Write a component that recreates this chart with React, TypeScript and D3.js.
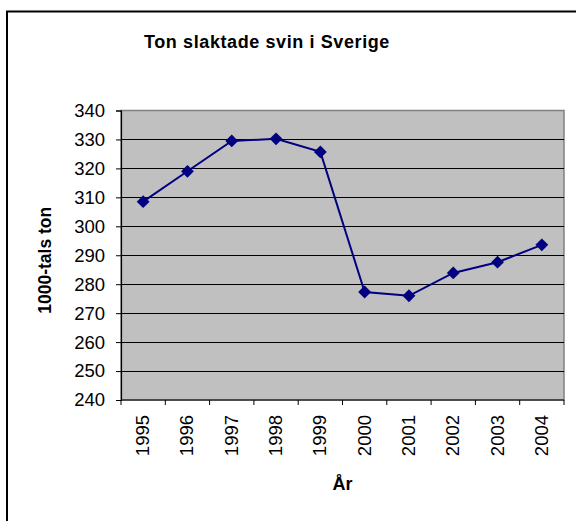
import React, {useEffect, useRef} from 'react';
import * as d3 from 'd3';

const years = ['1995', '1996', '1997', '1998', '1999', '2000', '2001', '2002', '2003', '2004'];
const tons = [308.5, 319.0, 329.5, 330.2, 325.7, 277.3, 276.0, 283.9, 287.6, 293.6];
const yTicks = [240, 250, 260, 270, 280, 290, 300, 310, 320, 330, 340];

const title = 'Ton slaktade svin i Sverige';
const xTitle = 'År';
const yTitle = '1000-tals ton';

const App = () => {
    const svgRef = useRef(null);
    const width = 576;
    const height = 521;
    const plot = {left: 121, top: 110.5, right: 564, bottom: 400};
    const font = '"Liberation Sans", Arial, sans-serif';

    useEffect(() => {
        const svg = d3.select(svgRef.current);
        svg.selectAll('*').remove();

        const x = d3.scaleBand()
            .domain(years)
            .range([plot.left, plot.right]);

        const y = d3.scaleLinear()
            .domain([240, 340])
            .range([plot.bottom, plot.top]);

        // outer frame
        svg.append('rect')
            .attr('x', 7).attr('y', 11.5)
            .attr('width', 600).attr('height', 600)
            .attr('fill', 'white')
            .attr('stroke', 'black')
            .attr('stroke-width', 2);

        // plot background
        svg.append('rect')
            .attr('x', plot.left).attr('y', plot.top)
            .attr('width', plot.right - plot.left)
            .attr('height', plot.bottom - plot.top)
            .attr('fill', '#c0c0c0')
            .attr('stroke', '#808080')
            .attr('stroke-width', 1.5);

        // gridlines
        svg.append('g')
            .selectAll('line')
            .data(yTicks.filter(t => t > 240 && t < 340))
            .enter()
            .append('line')
            .attr('x1', plot.left).attr('x2', plot.right)
            .attr('y1', d => Math.round(y(d)) + 0.5)
            .attr('y2', d => Math.round(y(d)) + 0.5)
            .attr('stroke', 'black')
            .attr('stroke-width', 1);

        // y axis
        const yAxis = d3.axisLeft(y)
            .tickValues(yTicks)
            .tickSize(5)
            .tickPadding(11)
            .tickFormat(d3.format('d'));
        const gy = svg.append('g')
            .attr('transform', `translate(${plot.left}, 0)`)
            .call(yAxis);
        gy.select('.domain').attr('stroke', 'black').attr('stroke-width', 1.2);
        gy.selectAll('text')
            .attr('font-family', font)
            .attr('font-size', 18.5)
            .attr('fill', 'black');

        // x axis with ticks on band edges
        const gx = svg.append('g')
            .attr('transform', `translate(0, ${plot.bottom})`);
        gx.append('line')
            .attr('x1', plot.left).attr('x2', plot.right)
            .attr('y1', 0).attr('y2', 0)
            .attr('stroke', 'black').attr('stroke-width', 1.2);
        const edges = years.map(d => x(d)).concat([plot.right]);
        gx.selectAll('.tick')
            .data(edges)
            .enter()
            .append('line')
            .attr('x1', d => d).attr('x2', d => d)
            .attr('y1', 0).attr('y2', 5)
            .attr('stroke', 'black');
        gx.selectAll('.lbl')
            .data(years)
            .enter()
            .append('text')
            .attr('transform', d => `translate(${x(d) + x.bandwidth() / 2 + 6}, 15) rotate(-90)`)
            .attr('text-anchor', 'end')
            .attr('font-family', font)
            .attr('font-size', 18.5)
            .text(d => d);

        // line
        const line = d3.line()
            .x((d, i) => x(years[i]) + x.bandwidth() / 2)
            .y(d => y(d));
        svg.append('path')
            .datum(tons)
            .attr('d', line)
            .attr('fill', 'none')
            .attr('stroke', '#000080')
            .attr('stroke-width', 2);

        // markers
        svg.append('g')
            .selectAll('path')
            .data(tons)
            .enter()
            .append('path')
            .attr('d', d3.symbol().type(d3.symbolDiamond2).size(105))
            .attr('transform', (d, i) => `translate(${x(years[i]) + x.bandwidth() / 2}, ${y(d)})`)
            .attr('fill', '#000080');

        // titles
        svg.append('text')
            .attr('x', 267).attr('y', 48)
            .attr('text-anchor', 'middle')
            .attr('font-family', font)
            .attr('font-weight', 'bold')
            .attr('font-size', 18)
            .attr('letter-spacing', 0.6)
            .text(title);

        svg.append('text')
            .attr('x', (plot.left + plot.right) / 2).attr('y', 490)
            .attr('text-anchor', 'middle')
            .attr('font-family', font)
            .attr('font-weight', 'bold')
            .attr('font-size', 18)
            .text(xTitle);

        svg.append('text')
            .attr('transform', `translate(51, ${(plot.top + plot.bottom) / 2 + 5}) rotate(-90)`)
            .attr('text-anchor', 'middle')
            .attr('font-family', font)
            .attr('font-weight', 'bold')
            .attr('font-size', 17.5)
            .text(yTitle);
    }, []);

    return (
        <svg ref={svgRef} width={width} height={height}
             style={{position: 'absolute', left: 0, top: 0, background: 'white'}}></svg>
    );
};

export default App;
